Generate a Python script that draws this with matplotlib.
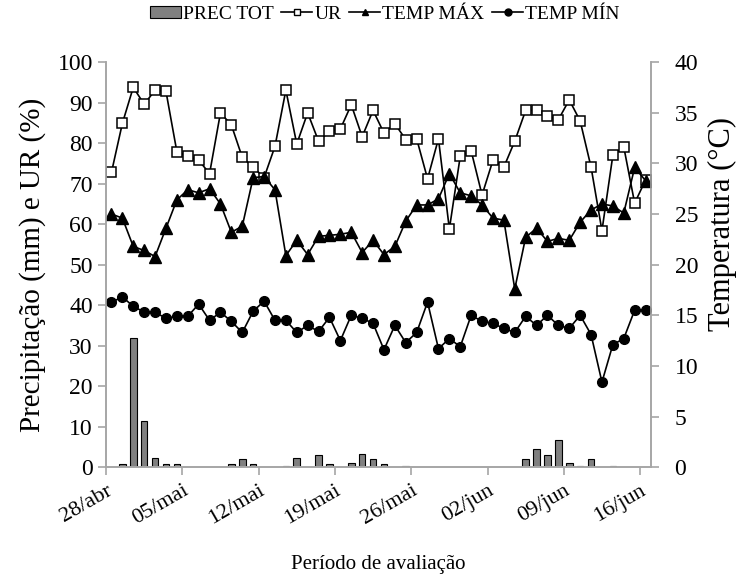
import matplotlib
matplotlib.use("Agg")
from matplotlib import pyplot as plt
from matplotlib.patches import Patch
from matplotlib.lines import Line2D
import numpy as np

plt.rcParams["font.family"] = ["Liberation Serif", "DejaVu Serif"]

# one value per day, 28/abr .. 16/jun
n_days = 50
tick_labels = ["28/abr", "05/mai", "12/mai", "19/mai", "26/mai", "02/jun", "09/jun", "16/jun"]

prec = [0, 0.8, 32, 11.4, 2.2, 0.8, 0.8, 0, 0, 0,
        0, 0.8, 1.9, 0.8, 0, 0, 0.4, 2.2, 0, 3.0,
        0.8, 0, 1.1, 3.3, 1.9, 0.8, 0, 0.3, 0, 0,
        0, 0, 0, 0, 0, 0, 0, 0, 1.9, 4.4,
        2.9, 6.6, 1.0, 0.4, 1.9, 0, 0.3, 0, 0, 0]

ur = [72.8, 84.9, 93.8, 89.6, 93.1, 92.8, 77.9, 76.8, 75.8, 72.5,
      87.5, 84.5, 76.5, 74.1, 71.5, 79.2, 93.1, 79.8, 87.5, 80.5,
      82.9, 83.5, 89.5, 81.6, 88.1, 82.5, 84.8, 80.9, 81.1, 71.2,
      81.1, 58.8, 76.8, 78.1, 67.2, 75.8, 74.1, 80.5, 88.1, 88.1,
      86.7, 85.8, 90.7, 85.5, 74.1, 58.4, 77.0, 79.1, 65.2, 70.9]

temp_max = [25.0, 24.6, 21.8, 21.4, 20.8, 23.6, 26.4, 27.4, 27.1, 27.5,
            26.0, 23.2, 23.8, 28.6, 28.7, 27.4, 20.9, 22.4, 21.0, 22.8,
            22.9, 23.0, 23.2, 21.2, 22.4, 21.0, 21.8, 24.3, 25.9, 25.9,
            26.5, 29.0, 27.1, 26.8, 25.9, 24.6, 24.4, 17.6, 22.7, 23.6,
            22.3, 22.6, 22.4, 24.2, 25.4, 26.0, 25.8, 25.1, 29.6, 28.3]

temp_min = [16.3, 16.8, 15.9, 15.3, 15.3, 14.7, 14.9, 14.9, 16.1, 14.5,
            15.3, 14.4, 13.3, 15.4, 16.4, 14.5, 14.5, 13.3, 14.0, 13.4,
            14.8, 12.5, 15.0, 14.7, 14.2, 11.6, 14.0, 12.3, 13.3, 16.3,
            11.7, 12.7, 11.9, 15.0, 14.4, 14.2, 13.7, 13.3, 14.9, 14.0,
            15.0, 14.0, 13.7, 15.0, 13.1, 8.4, 12.1, 12.7, 15.5, 15.5]

axis_gray = "#a6a6a6"

fig = plt.figure(figsize=(7.44, 5.76), dpi=100)
ax = fig.add_axes([0.1425, 0.189, 0.7325, 0.703])
ax2 = ax.twinx()

x = np.arange(n_days) + 0.5

ax.bar(x, prec, width=0.6, color="#808080", edgecolor="black", linewidth=0.8, zorder=2)
ax.plot(x, ur, color="black", lw=1.2, marker="s", ms=7.5, mfc="white", mec="black", mew=1.1, zorder=3)
ax2.plot(x, temp_max, color="black", lw=1.2, marker="^", ms=8, mfc="black", mec="black")
ax2.plot(x, temp_min, color="black", lw=1.2, marker="o", ms=7, mfc="black", mec="black")

ax.set_xlim(0, n_days)
ax.set_ylim(0, 100)
ax2.set_ylim(0, 40)
ax.set_yticks(np.arange(0, 101, 10))
ax2.set_yticks(np.arange(0, 41, 5))
ax.set_xticks(np.arange(0, n_days, 7))
ax.set_xticklabels(tick_labels, rotation=30, ha="right", rotation_mode="anchor")

for a in (ax, ax2):
    for s in a.spines.values():
        s.set_color(axis_gray)
        s.set_linewidth(1.2)
    a.spines["top"].set_visible(False)
    a.tick_params(colors=axis_gray, labelcolor="black", labelsize=17, length=6, width=1.2)
ax.tick_params(axis="x", labelsize=16, pad=4)
ax2.tick_params(axis="y", pad=11)

ax.set_ylabel("Precipitação (mm) e UR (%)", fontsize=21, labelpad=8)
ax2.set_ylabel("Temperatura (°C)", fontsize=22, labelpad=3)
ax2.yaxis.set_label_coords(1.105, 0.6)
ax.set_xlabel("Período de avaliação", fontsize=15, labelpad=19)

handles = [
    Patch(facecolor="#808080", edgecolor="black", linewidth=0.8),
    Line2D([], [], color="black", lw=1.2, marker="s", ms=5, mfc="white", mec="black"),
    Line2D([], [], color="black", lw=1.2, marker="^", ms=5, mfc="black"),
    Line2D([], [], color="black", lw=1.2, marker="o", ms=5, mfc="black"),
]
fig.legend(handles, ["PREC TOT", "UR", "TEMP MÁX", "TEMP MÍN"], loc="upper center",
           bbox_to_anchor=(0.517, 1.02), ncol=4, frameon=False, fontsize=14,
           handlelength=1.6, handleheight=0.6, handletextpad=0.1, columnspacing=0.4)

fig.savefig("out.png", dpi=100)
